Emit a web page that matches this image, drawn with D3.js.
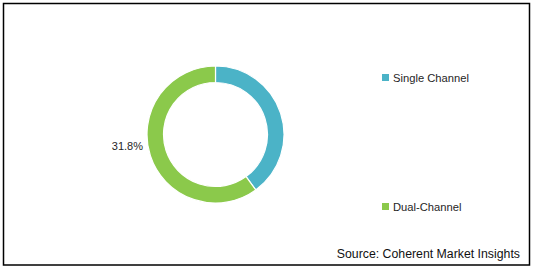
<!DOCTYPE html>
<html><head><meta charset="utf-8">
<script src="https://cdn.jsdelivr.net/npm/d3@7"></script>
<style>body{margin:0;background:#fff}svg{display:block}</style>
</head><body>
<svg id="c" width="534" height="269"></svg>
<script>
const categories = ["Single Channel", "Dual-Channel"];
const values = [40, 60];
const dataLabels = ["", "31.8%"];
const colors = ["#4bb3c7", "#8bc94b"];
const sourceText = "Source: Coherent Market Insights";

const svg = d3.select("#c");
svg.append("rect").attr("x", 3.5).attr("y", 3.5).attr("width", 526).attr("height", 261.5)
  .attr("fill", "#fff").attr("stroke", "#000").attr("stroke-width", 1.5);

const cx = 215.5, cy = 134.5, rOuter = 68.5, rInner = 52;
const pie = d3.pie().sort(null).value(d => d)(values);
const arc = d3.arc().innerRadius(rInner).outerRadius(rOuter);
const g = svg.append("g").attr("transform", `translate(${cx},${cy})`);
g.selectAll("path").data(pie).join("path")
  .attr("d", arc).attr("fill", (d, i) => colors[i])
  .attr("stroke", "#fff").attr("stroke-width", 1.2);

svg.append("text").attr("x", 143).attr("y", 150).attr("text-anchor", "end")
  .attr("font-family", "Liberation Sans, Arial, sans-serif").attr("font-size", 11)
  .attr("fill", "#262626").text(dataLabels[1]);

const legY = [74, 203];
const leg = svg.append("g");
categories.forEach((c, i) => {
  leg.append("rect").attr("x", 382).attr("y", legY[i]).attr("width", 7).attr("height", 7).attr("fill", colors[i]);
  leg.append("text").attr("x", 393).attr("y", legY[i] + 7.5)
    .attr("font-family", "Liberation Sans, Arial, sans-serif").attr("font-size", 11.2)
    .attr("fill", "#262626").text(c);
});

svg.append("text").attr("x", 520).attr("y", 258).attr("text-anchor", "end")
  .attr("font-family", "Liberation Sans, Arial, sans-serif").attr("font-size", 12.3)
  .attr("fill", "#111").text(sourceText);
</script>
</body></html>
